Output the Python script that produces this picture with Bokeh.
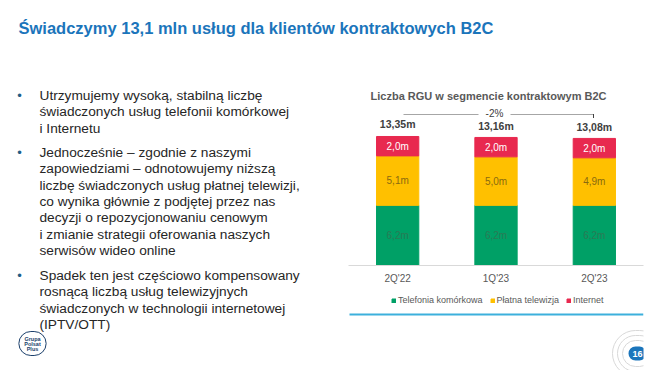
from bokeh.plotting import figure
from bokeh.layouts import row, column
from bokeh.models import (ColumnDataSource, Label, LabelSet, Legend, LegendItem,
                          BoxAnnotation, FactorRange, Range1d)
from bokeh.embed import file_html
from bokeh.resources import INLINE
from bokeh.core.properties import value

# ---------------- data ----------------
quarters = ["2Q'22", "1Q'23", "2Q'23"]
mobile = [6.2, 6.2, 6.2]
paytv = [5.1, 5.0, 4.9]
internet = [2.0, 2.0, 2.0]
totals = [13.35, 13.16, 13.08]
mobile_lbl = ["6,2m", "6,2m", "6,2m"]
paytv_lbl = ["5,1m", "5,0m", "4,9m"]
internet_lbl = ["2,0m", "2,0m", "2,0m"]
total_lbl = ["13,35m", "13,16m", "13,08m"]
series_names = ["Telefonia komórkowa", "Płatna telewizja", "Internet"]
change_lbl = "-2%"

title_txt = "Świadczymy 13,1 mln usług dla klientów kontraktowych B2C"
chart_title = "Liczba RGU w segmencie kontraktowym B2C"
bullets = [
    ["Utrzymujemy wysoką, stabilną liczbę",
     "świadczonych usług telefonii komórkowej",
     "i Internetu"],
    ["Jednocześnie – zgodnie z naszymi",
     "zapowiedziami – odnotowujemy niższą",
     "liczbę świadczonych usług płatnej telewizji,",
     "co wynika głównie z podjętej przez nas",
     "decyzji o repozycjonowaniu cenowym",
     "i zmianie strategii oferowania naszych",
     "serwisów wideo online"],
    ["Spadek ten jest częściowo kompensowany",
     "rosnącą liczbą usług telewizyjnych",
     "świadczonych w technologii internetowej",
     "(IPTV/OTT)"],
]
logo_lines = ["Grupa", "Polsat", "Plus"]
page_no = "16"

GREEN = "#00a066"
YELLOW = "#ffc000"
RED = "#e8294f"
FONT = "Liberation Sans"

W, H = 655, 370
TOP_H = 45          # title strip height
SPLIT = 348         # left/right split
AX_H = 25           # axis panel height
FB = 265            # baseline y on page
CH_H = FB - TOP_H + AX_H   # chart figure height
PX_PER_M = 9.7


def blank(width, height):
    f = figure(width=width, height=height, output_backend="svg", toolbar_location=None,
               x_axis_location=None, y_axis_location=None, x_range=Range1d(0, 1),
               y_range=Range1d(0, 1), min_border=0, outline_line_color=None,
               background_fill_color="white", border_fill_color="white")
    f.grid.visible = False
    return f


def put(fig, x0, y_bottom, x, y, text, size, color, bold=False, align="left",
        baseline="middle", **kw):
    fig.add_layout(Label(x=x - x0, y=y_bottom - y, x_units="screen", y_units="screen",
                         text=text, text_font=FONT, text_font_size=size,
                         text_color=color, text_align=align, text_baseline=baseline,
                         text_font_style="bold" if bold else "normal", **kw))


def bar_line(fig, x0, y_bottom, left, right, top, bottom, color):
    fig.add_layout(BoxAnnotation(left=left - x0, right=right - x0, top=y_bottom - top,
                                 bottom=y_bottom - bottom, left_units="screen",
                                 right_units="screen", top_units="screen",
                                 bottom_units="screen", fill_color=color, fill_alpha=1,
                                 line_color=None))


# ---------------- title strip ----------------
title_fig = blank(W, TOP_H)
put(title_fig, 0, TOP_H, 18, 27, title_txt, "16.5px", "#1b75bb", bold=True)

# ---------------- left text panel ----------------
left_fig = blank(SPLIT, H - TOP_H)
starts = [95, 152, 275]
for ys, lines in zip(starts, bullets):
    put(left_fig, 0, H, 19, ys, "•", "13px", "#1f5d86", align="center")
    for k, line in enumerate(lines):
        put(left_fig, 0, H, 39, ys + k * 16.3, line, "13.7px", "#262626")
# logo ring (white text inside, border drawn as a circle)
put(left_fig, 0, H, 32, 343, "Polsat", "5.5px", "white", align="center",
    border_line_color="#1b3f6b", border_line_width=1, border_radius=13,
    padding=(6, 9), background_fill_color="white")
for k, t in enumerate(logo_lines):
    put(left_fig, 0, H, 32, 338 + k * 5.2, t, "5.5px", "#1b3f6b", bold=True, align="center")

# ---------------- chart ----------------
src = ColumnDataSource(dict(
    q=quarters,
    b1=[m for m in mobile],
    b2=[m + t for m, t in zip(mobile, paytv)],
    b3=[m + t + i for m, t, i in zip(mobile, paytv, internet)],
    c1=[m / 2 for m in mobile],
    c2=[m + t / 2 for m, t in zip(mobile, paytv)],
    c3=[m + t + i / 2 for m, t, i in zip(mobile, paytv, internet)],
    tot=totals, ml=mobile_lbl, tl=paytv_lbl, il=internet_lbl, totl=total_lbl,
))

p = figure(width=W - SPLIT, height=CH_H, x_range=FactorRange(*quarters, range_padding=0.0),
           y_range=Range1d(0, (FB - TOP_H) / PX_PER_M), output_backend="svg",
           toolbar_location=None, y_axis_location=None,
           min_border_left=0, min_border_right=12, min_border_top=0,
           min_border_bottom=AX_H, background_fill_color="white",
           border_fill_color="white", outline_line_color=None)
p.grid.visible = False

r1 = p.vbar(x="q", bottom=0, top="b1", width=0.43, color=GREEN, source=src)
r2 = p.vbar(x="q", bottom="b1", top="b2", width=0.43, color=YELLOW, source=src)
r3 = p.vbar(x="q", bottom="b2", top="b3", width=0.43, color=RED, source=src)

ax = p.xaxis[0]
ax.axis_line_color = "#d9d9d9"
ax.major_tick_line_color = None
ax.minor_tick_line_color = None
ax.major_label_text_font = FONT
ax.major_label_text_font_size = "10px"
ax.major_label_text_color = "#595959"
ax.major_label_standoff = 1

common = dict(source=src, text_font=value(FONT), text_font_size="10px",
              text_align="center", text_baseline="middle")
p.add_layout(LabelSet(x="q", y="c1", text="ml", text_color="#2a7a55", **common))
p.add_layout(LabelSet(x="q", y="c2", text="tl", text_color="#8a6a10", **common))
p.add_layout(LabelSet(x="q", y="c3", text="il", text_color="white", **common))
p.add_layout(LabelSet(x="q", y="tot", text="totl", text_color="#404040",
                      y_offset=6, source=src, text_font=value(FONT),
                      text_font_size="10.5px", text_font_style="bold",
                      text_align="center", text_baseline="bottom"))

put(p, SPLIT, FB, 488, 95, chart_title, "11px", "#595959", bold=True, align="center")
bar_line(p, SPLIT, FB, 403, 478, 113.5, 114.5, "#a6a6a6")
bar_line(p, SPLIT, FB, 510, 593, 113.5, 114.5, "#a6a6a6")
bar_line(p, SPLIT, FB, 592.5, 593.5, 113.5, 117.5, "#404040")
put(p, SPLIT, FB, 494, 113, change_lbl, "10px", "#404040", align="center")

# ---------------- bottom strip (legend, rule, page number) ----------------
BOT_TOP = TOP_H + CH_H
bot_fig = blank(W - SPLIT, H - BOT_TOP)
# legend swatches: one off-range placeholder bar per series colour
swatch = ColumnDataSource(dict(x=[-5.0], top=[0.0]))
g1 = bot_fig.vbar(x="x", top="top", width=0.5, source=swatch, color=GREEN)
g2 = bot_fig.vbar(x="x", top="top", width=0.5, source=swatch, color=YELLOW)
g3 = bot_fig.vbar(x="x", top="top", width=0.5, source=swatch, color=RED)
legend = Legend(items=[LegendItem(label=series_names[0], renderers=[g1]),
                       LegendItem(label=series_names[1], renderers=[g2]),
                       LegendItem(label=series_names[2], renderers=[g3])],
                orientation="horizontal", label_text_font=FONT,
                label_text_font_size="9px", label_text_color="#595959",
                glyph_width=5, glyph_height=5, spacing=7, label_standoff=2,
                padding=2, margin=0, border_line_color=None, label_height=10,
                background_fill_alpha=0, location=(43, H - 298 - 7))
bot_fig.add_layout(legend)
bar_line(bot_fig, SPLIT, H, 349, 643, 313, 315, "#3cb0dc")
for pad in (20, 15, 10):
    put(bot_fig, SPLIT, H, 637, 353, page_no, "9px", "white", bold=True, align="center",
        border_line_color="#d8d8d8", border_line_width=1, background_fill_color="white",
        border_radius=pad + 6, padding=pad)
put(bot_fig, SPLIT, H, 637, 353, page_no, "9px", "white", bold=True, align="center",
    background_fill_color="#1b75bb", padding=4, border_radius=9)

layout = column(title_fig, row(left_fig, column(p, bot_fig, spacing=0), spacing=0),
                spacing=0)
open("out.html", "w").write(file_html(layout, INLINE))
